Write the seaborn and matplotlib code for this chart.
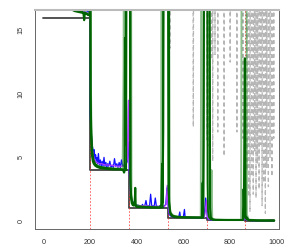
import matplotlib
matplotlib.use('Agg')
import matplotlib.pyplot as plt
import seaborn as sns

# ---- data ----
# true piecewise-constant level (step function)
step_breaks = [0, 200, 366.7, 533.3, 700, 866.7, 990]
step_levels = [16, 4, 1, 0.25, 0.0625, 0.015625, 0.015625]
change_points = [200, 366.7, 533.3, 700, 866.7]

# estimates (x, y); 30/40 = above the plot, clipped
blue = [(0, 30), (120, 30), (140, 17.2), (160, 16.8), (175, 16.6), (190, 16.5), (199, 16.4),
        (201, 8.5), (203, 7.4), (206, 6.8), (209, 6.0), (212, 5.7), (215, 5.1), (218, 5.6),
        (221, 4.9), (224, 5.2), (227, 4.6), (230, 5.0), (233, 4.5), (236, 5.3), (240, 4.4),
        (244, 4.8), (248, 4.3), (252, 4.7), (256, 4.3), (260, 5.0), (264, 4.3), (268, 4.6),
        (272, 4.2), (276, 4.5), (280, 4.3), (285, 4.7), (290, 4.2), (295, 4.4), (300, 4.2),
        (305, 4.9), (310, 4.3), (315, 4.5), (320, 4.2), (325, 4.6), (330, 4.2), (335, 4.8),
        (340, 4.3), (345, 4.4), (350, 4.2), (355, 4.5), (360, 4.7), (363, 5.8), (366, 6.2),
        (368, 4.0), (371, 3.2), (374, 2.4), (377, 1.9), (380, 1.6), (384, 1.4), (388, 1.5),
        (392, 1.2), (396, 1.3), (400, 1.15), (405, 1.25), (410, 1.1), (415, 1.2), (420, 1.1),
        (425, 1.3), (430, 1.1), (435, 1.2), (440, 1.6), (445, 1.1), (450, 1.2), (455, 1.1),
        (460, 2.1), (465, 1.1), (470, 1.2), (475, 1.1), (480, 1.8), (485, 1.1), (490, 1.15),
        (495, 1.1), (500, 1.2), (505, 1.1), (510, 1.15), (515, 1.1), (520, 1.2), (525, 1.3),
        (530, 2.6), (533, 1.6), (536, 1.0), (540, 0.5), (545, 0.4), (550, 0.35), (560, 0.3),
        (570, 0.3), (580, 0.28), (585, 0.7), (588, 0.28), (600, 0.27), (605, 0.9), (608, 0.27),
        (612, 0.26), (620, 0.26), (640, 0.26), (660, 0.25), (680, 0.25), (690, 0.3), (696, 1.8),
        (700, 1.0), (703, 0.3), (706, 0.15), (712, 0.1), (720, 0.08), (740, 0.07), (800, 0.07),
        (860, 0.08), (864, 0.6), (867, 0.3), (870, 0.1), (876, 0.05), (890, 0.03), (920, 0.02),
        (990, 0.02)]

purple = [(0, 30), (125, 30), (135, 16.7), (150, 16.6), (170, 16.5), (185, 16.4), (199, 16.3),
          (201, 10.5), (203, 7.8), (206, 6.5), (210, 5.6), (215, 5.1), (220, 4.8), (230, 4.6),
          (240, 4.5), (250, 4.5), (265, 4.4), (280, 4.4), (300, 4.35), (320, 4.3), (340, 4.3),
          (355, 4.4), (360, 4.8), (363, 8.5), (365, 9.5), (368, 4.2), (371, 2.5), (375, 1.8),
          (380, 1.5), (390, 1.3), (400, 1.2), (430, 1.2), (460, 1.15), (500, 1.15), (520, 1.15),
          (527, 1.3), (531, 2.8), (535, 1.2), (540, 0.6), (550, 0.4), (570, 0.32), (600, 0.3),
          (650, 0.28), (690, 0.28), (695, 0.8), (699, 1.6), (703, 0.3), (710, 0.12), (730, 0.08),
          (800, 0.07), (860, 0.07), (864, 0.5), (868, 0.15), (875, 0.05), (900, 0.03),
          (950, 0.03), (985, 0.1), (990, 0.03)]

green1 = [(0, 30), (105, 30), (110, 16.8), (125, 16.6), (140, 16.55), (155, 16.5), (165, 16.5),
          (172, 16.3), (175, 15.8), (178, 16.4), (185, 16.3), (192, 16.2), (199, 16.2),
          (200.5, 30), (202, 9.0), (205, 6.4), (208, 5.2), (212, 4.7), (216, 4.5), (222, 4.35),
          (230, 4.25), (245, 4.15), (270, 4.1), (300, 4.05), (330, 4.05), (342, 4.0), (346, 3.8),
          (348, 3.9), (350, 14.4), (352, 6.0), (354, 30), (372, 30), (374, 2.8), (376, 1.8),
          (379, 1.4), (383, 1.25), (388, 1.2), (392, 1.5), (394, 2.6), (396, 1.2), (400, 1.1),
          (420, 1.08), (460, 1.05), (500, 1.05), (506, 1.3), (509, 4.5), (511, 1.4), (514, 7.0),
          (517, 30), (538, 30), (540, 1.5), (543, 0.7), (548, 0.45), (555, 0.35), (565, 0.3),
          (590, 0.28), (630, 0.27), (670, 0.26), (680, 0.26), (683, 3.0), (685, 0.4), (687, 6.0),
          (690, 30), (712, 30), (715, 1.0), (718, 0.3), (725, 0.12), (740, 0.08), (780, 0.07),
          (830, 0.07), (856, 0.07), (860, 1.0), (864, 12.8), (867, 0.5), (870, 0.2), (875, 0.1),
          (890, 0.04), (930, 0.03), (990, 0.03)]

green2 = [(0, 30), (95, 30), (100, 16.9), (120, 16.7), (150, 16.5), (180, 16.4), (198, 16.3),
          (200, 30), (203, 12.0), (206, 7.5), (210, 5.5), (215, 4.8), (225, 4.4), (250, 4.2),
          (300, 4.15), (340, 4.1), (344, 12.0), (346, 30), (375, 30), (378, 2.2), (382, 1.6),
          (390, 1.3), (420, 1.15), (480, 1.1), (505, 1.1), (507, 30), (535, 30), (538, 2.2),
          (542, 1.0), (548, 0.6), (560, 0.4), (600, 0.3), (675, 0.28), (678, 30), (705, 30),
          (708, 2.0), (712, 0.6), (718, 0.3), (721, 4.0), (724, 0.2), (735, 0.1), (800, 0.08),
          (848, 0.08), (851, 30), (870, 30), (873, 0.5), (880, 0.1), (920, 0.05), (990, 0.04)]

green3 = [(0, 30), (112, 30), (115, 16.7), (135, 16.5), (160, 16.4), (185, 16.3), (199, 16.2),
          (201, 30), (203, 10.0), (206, 6.8), (210, 5.5), (215, 4.8), (222, 4.5), (235, 4.3),
          (260, 4.2), (300, 4.1), (350, 4.05), (355, 4.0), (358, 30), (370, 30), (372, 3.5),
          (375, 2.2), (380, 1.5), (388, 1.3), (400, 1.15), (450, 1.08), (500, 1.05), (512, 1.05),
          (515, 30), (533, 30), (536, 2.5), (540, 1.2), (545, 0.6), (555, 0.4), (580, 0.3),
          (640, 0.27), (686, 0.26), (689, 30), (702, 30), (704, 3.0), (706, 0.8), (710, 0.3),
          (716, 0.15), (730, 0.08), (800, 0.07), (855, 0.07), (858, 2.5), (861, 0.6), (866, 0.2),
          (872, 0.3), (880, 0.08), (920, 0.04), (990, 0.03)]

grey = [(0, 40), (540, 40), (543, 13.6), (546, 40), (640, 40), (643, 7.4), (646, 40),
        (699, 40), (701, 6.4), (703, 40), (708, 40), (710, 5.9), (712, 40), (719, 40),
        (721, 12.7), (723, 40), (725, 40), (726, 4.7), (728, 40), (734, 40), (736, 13.1),
        (738, 40), (746, 40), (748, 7.0), (750, 40), (773, 40), (775, 5.1), (777, 40),
        (799, 40), (801, 12.5), (803, 40), (828, 40), (830, 7.0), (832, 40), (854, 40),
        (856, 6.5), (858, 40), (871, 40), (873, 4.0), (875, 40), (878, 40), (880, 1.9),
        (882, 40), (884, 40), (886, 0.7), (888, 40), (891, 40), (893, 3.5), (895, 40),
        (898, 40), (900, 2.1), (902, 40), (904, 40), (906, 5.5), (908, 40), (910, 40),
        (912, 1.8), (914, 40), (916, 40), (918, 4.5), (920, 40), (923, 40), (925, 2.5),
        (927, 40), (930, 40), (932, 6.0), (934, 40), (936, 40), (938, 1.2), (940, 40),
        (943, 40), (945, 3.0), (947, 40), (950, 40), (952, 0.6), (954, 40), (956, 40),
        (958, 4.2), (960, 40), (963, 40), (965, 2.7), (967, 40), (970, 40), (972, 5.0),
        (974, 40), (978, 40), (980, 3.5), (982, 40), (986, 40), (988, 6.5), (990, 40)]

x_ticks = [0, 200, 400, 600, 800, 1000]
y_ticks = [0, 5, 10, 15]


def draw(ax, pts, **kw):
  xs = [p[0] for p in pts]
  ys = [p[1] for p in pts]
  sns.lineplot(x=xs, y=ys, ax=ax, estimator=None, sort=False, **kw)


sns.set_style("white")
plt.rcParams['font.family'] = ['Liberation Sans', 'DejaVu Sans']

fig = plt.figure(figsize=(2.97, 2.48), dpi=100)
ax = fig.add_axes([0.117, 0.0766, 0.822, 0.885])

draw(ax, grey, color='#b5b5b5', lw=0.9, linestyle=(0, (3, 2.5)))
draw(ax, list(zip(step_breaks, step_levels)), color='#444444', lw=1.3,
     drawstyle='steps-post')
for cp in change_points:
  ax.axvline(cp, color='#ff3030', lw=0.6, linestyle=(0, (2, 2)), alpha=0.85)
draw(ax, blue, color='#1010ff', lw=0.9)
draw(ax, purple, color='#b040ff', lw=0.9)
draw(ax, green2, color='#2e8b2e', lw=1.4, alpha=0.55)
draw(ax, green3, color='#006400', lw=1.3)
draw(ax, green1, color='#006400', lw=1.5)

ax.set_xlim(-37, 1010)
ax.set_ylim(-0.64, 16.64)
ax.set_xticks(x_ticks)
ax.set_yticks(y_ticks)
ax.set_xticklabels([str(v) for v in x_ticks])
ax.set_yticklabels([str(v) for v in y_ticks], rotation=90, va='center')
ax.tick_params(axis='both', length=3, width=0.6, color='#555555', labelsize=5.2,
               labelcolor='#333333', pad=4.5, direction='out')
ax.set_xlabel('')
ax.set_ylabel('')
for side in ['left', 'bottom', 'right']:
  ax.spines[side].set_color('#666666')
  ax.spines[side].set_linewidth(0.7)
ax.spines['top'].set_color('#bbbbbb')
ax.spines['top'].set_linewidth(1.5)

fig.savefig('out.png', dpi=100)
